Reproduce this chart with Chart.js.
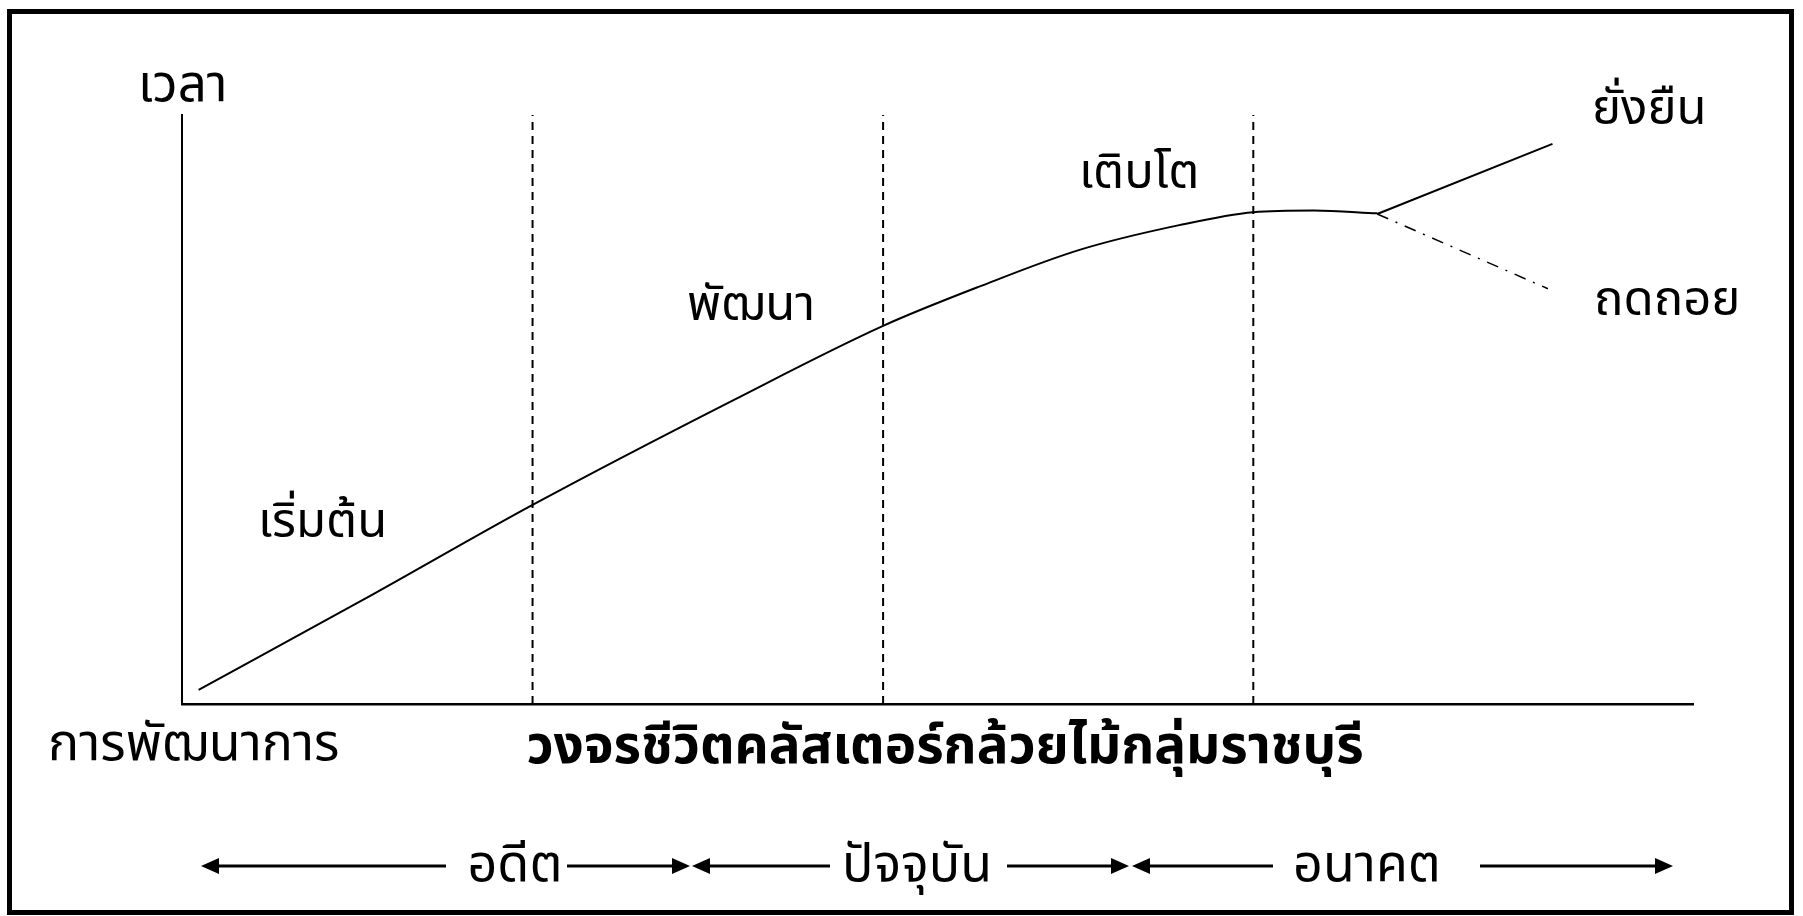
<!DOCTYPE html>
<html>
<head>
<meta charset="utf-8">
<script src="https://cdn.jsdelivr.net/npm/chart.js@4.4.1/dist/chart.umd.min.js"></script>
<style>
  html, body { margin: 0; padding: 0; background: #fff; }
  #wrap { width: 1803px; height: 916px; }
</style>
</head>
<body>
<div id="wrap"><canvas id="cluster" width="1803" height="916"></canvas></div>
<script>
// ---- data (x = time 0..100, y = development 0..100) ----
const curveX   = [1.1, 12.0, 23.2, 36.5, 46.4, 52.8, 59.4, 66.0, 70.9, 74.9, 79.1];
const curveY   = [2.4, 17.7, 33.8, 51.6, 64.2, 70.9, 77.1, 81.3, 83.5, 83.8, 83.3];
const sustainX = [79.1, 90.7];
const sustainY = [83.2, 95.1];
const declineX = [79.1, 90.4];
const declineY = [83.2, 70.5];
const stageBounds = [23.2, 46.4, 70.9];

const stageLabels = ['เริ่มต้น', 'พัฒนา', 'เติบโต'];
const branchLabels = ['ยั่งยืน', 'ถดถอย'];
const eraLabels = ['อดีต', 'ปัจจุบัน', 'อนาคต'];
const yAxisLabel = 'เวลา';
const xAxisLabel = 'การพัฒนาการ';
const chartTitle = 'วงจรชีวิตคลัสเตอร์กล้วยไม้กลุ่มราชบุรี';

const toPoints = (xs, ys) => xs.map((x, i) => ({ x, y: ys[i] }));

const THAI = '"Noto Sans Thai", Loma, Garuda, "Noto Sans", sans-serif';

// texts and arrows are annotations, placed in page pixels
const annotations = {
  id: 'annotations',
  afterDraw(chart) {
    const ctx = chart.ctx;
    ctx.save();

    // outer frame
    ctx.strokeStyle = '#000';
    ctx.lineWidth = 5;
    ctx.strokeRect(9.5, 11.5, 1782, 901);

    ctx.fillStyle = '#000';
    ctx.textBaseline = 'alphabetic';

    ctx.font = '51px ' + THAI;
    ctx.textAlign = 'left';
    ctx.fillText(yAxisLabel, 138, 101);

    ctx.font = '49px ' + THAI;
    ctx.fillText(stageLabels[0], 258, 537);
    ctx.fillText(stageLabels[1], 687, 320);
    ctx.fillText(stageLabels[2], 1079, 188);
    ctx.fillText(branchLabels[0], 1592, 124);
    ctx.fillText(branchLabels[1], 1594, 315);

    ctx.font = '52px ' + THAI;
    ctx.fillText(xAxisLabel, 48, 760);

    ctx.font = 'bold 53px ' + THAI;
    ctx.textAlign = 'center';
    ctx.fillText(chartTitle, 945, 763);

    // era arrows
    const ay = 866;
    const arrows = [
      { from: 446, to: 201 }, { from: 567, to: 690 },
      { from: 830, to: 692 }, { from: 1007, to: 1129 },
      { from: 1273, to: 1132 }, { from: 1480, to: 1673 }
    ];
    ctx.lineWidth = 3;
    arrows.forEach(a => {
      const dir = Math.sign(a.to - a.from);
      ctx.beginPath();
      ctx.moveTo(a.from, ay);
      ctx.lineTo(a.to - dir * 14, ay);
      ctx.stroke();
      ctx.beginPath();
      ctx.moveTo(a.to, ay);
      ctx.lineTo(a.to - dir * 18, ay - 8);
      ctx.lineTo(a.to - dir * 18, ay + 8);
      ctx.closePath();
      ctx.fill();
    });
    ctx.font = '52px ' + THAI;
    ctx.textAlign = 'center';
    ctx.fillText(eraLabels[0], 515, 881);
    ctx.fillText(eraLabels[1], 917, 881);
    ctx.fillText(eraLabels[2], 1367, 881);

    ctx.restore();
  }
};

const boundaryDatasets = stageBounds.map(b => ({
  data: [{ x: b, y: 0 }, { x: b, y: 100 }],
  borderColor: '#000',
  borderWidth: 2,
  borderDash: [8, 6],
  pointRadius: 0,
  showLine: true
}));

new Chart(document.getElementById('cluster'), {
  type: 'scatter',
  data: {
    datasets: [
      ...boundaryDatasets,
      {
        data: toPoints(curveX, curveY),
        borderColor: '#000', borderWidth: 2,
        pointRadius: 0, showLine: true, cubicInterpolationMode: 'monotone'
      },
      {
        data: toPoints(sustainX, sustainY),
        borderColor: '#000', borderWidth: 2,
        pointRadius: 0, showLine: true
      },
      {
        data: toPoints(declineX, declineY),
        borderColor: '#000', borderWidth: 1.5, borderDash: [12, 8, 2, 8],
        pointRadius: 0, showLine: true
      }
    ]
  },
  options: {
    responsive: false,
    animation: false,
    devicePixelRatio: 1,
    layout: { padding: { left: 182, top: 115, right: 110, bottom: 212 } },
    plugins: { legend: { display: false }, tooltip: { enabled: false } },
    scales: {
      x: {
        type: 'linear', min: 0, max: 100,
        grid: { display: false, drawTicks: false },
        ticks: { display: false },
        border: { display: true, color: '#000', width: 2.5 }
      },
      y: {
        type: 'linear', min: 0, max: 100,
        grid: { display: false, drawTicks: false },
        ticks: { display: false },
        border: { display: true, color: '#000', width: 2 }
      }
    }
  },
  plugins: [annotations]
});
</script>
</body>
</html>
